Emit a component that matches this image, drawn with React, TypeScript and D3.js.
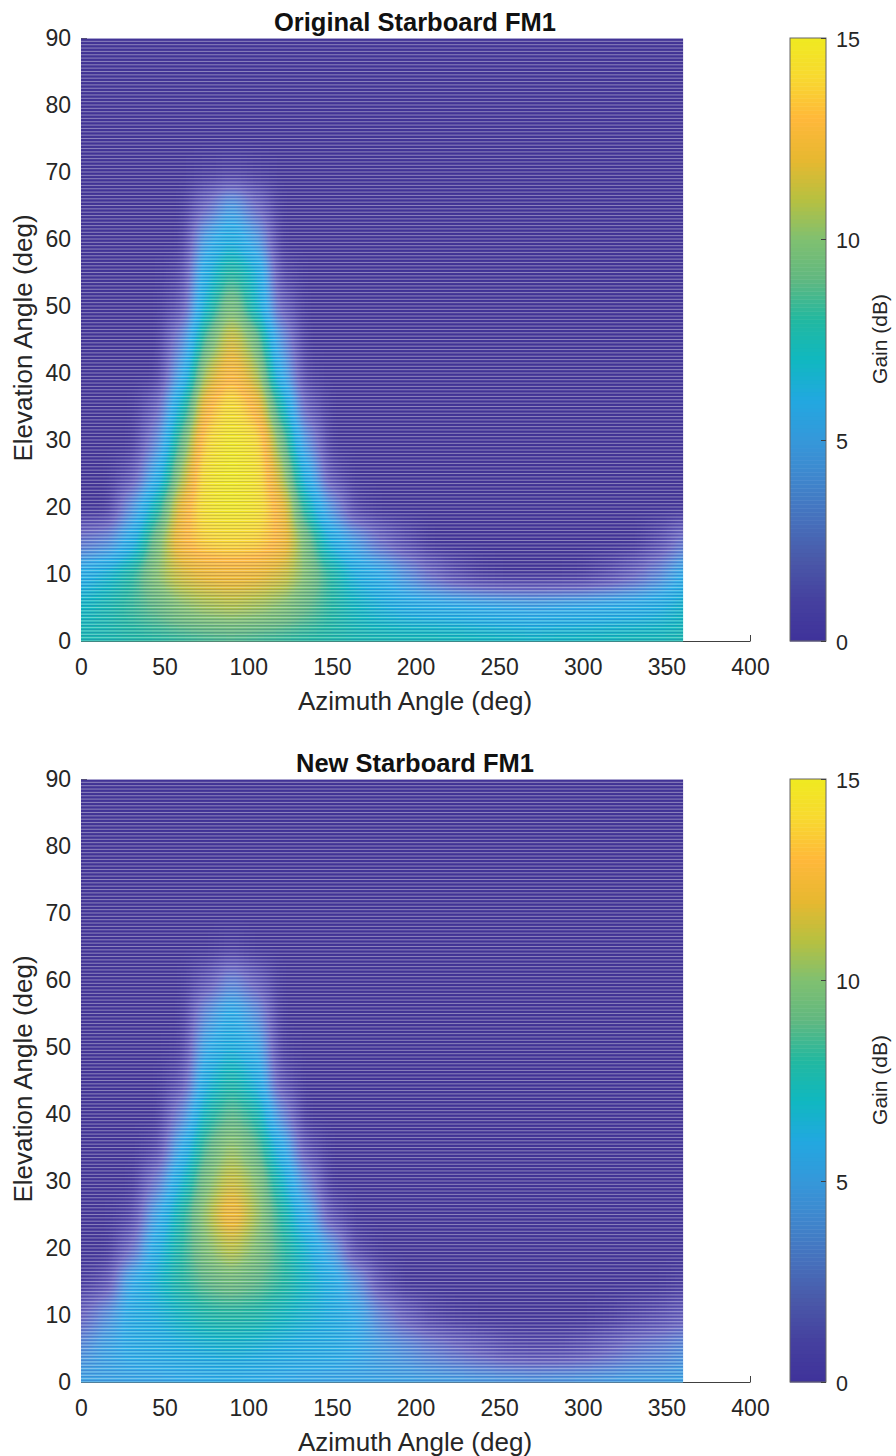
import React, { useEffect, useRef } from 'react';
import {
  select,
  scaleLinear,
  axisBottom,
  axisLeft,
  axisRight,
  range,
  rgb,
  interpolateRgb,
} from 'd3';

const azimuths = [0, 15, 30, 45, 60, 75, 90, 105, 120, 135, 150, 165, 180, 195, 210, 225, 240, 255, 270, 285, 300, 315, 330, 345, 360];
const elevations = [0, 5, 10, 15, 20, 25, 30, 35, 40, 45, 50, 55, 60, 65, 70];

// one row per elevation (bottom up), one value per azimuth, gain in dB
const gainOriginal = [
  [7.5, 7.6, 7.8, 8, 8.2, 8.4, 8.5, 8.4, 8.2, 8, 7.8, 7.6, 7.5, 7.4, 7.4, 7.3, 7.2, 7.1, 7, 7.1, 7.2, 7.3, 7.4, 7.4, 7.5],
  [7, 7.5, 8.3, 9, 10, 10.5, 10.8, 10.5, 10, 9, 8, 7, 6.3, 5.8, 5.6, 5.4, 5.2, 5, 4.8, 5, 5.2, 5.4, 5.6, 6, 6.8],
  [5.5, 6.5, 8, 10.2, 11.6, 12.2, 12.4, 12.2, 11.6, 10, 8, 6, 5.2, 3.5, 2, 0.8, 0.2, 0, 0, 0, 0.2, 0.8, 1.8, 3.2, 5.2],
  [2.5, 3.2, 5.5, 9.5, 12.8, 13.9, 14.1, 13.9, 12.8, 9.5, 6, 4, 2, 0.8, 0, 0, 0, 0, 0, 0, 0, 0, 0, 0.8, 2.5],
  [0, 0, 3.5, 7.5, 12.3, 14.7, 15, 14.7, 12.5, 7.5, 3.5, 0.4, 0, 0, 0, 0, 0, 0, 0, 0, 0, 0, 0, 0, 0],
  [0, 0, 1, 5, 10.5, 14.7, 15, 14.7, 11, 5.5, 0.8, 0, 0, 0, 0, 0, 0, 0, 0, 0, 0, 0, 0, 0, 0],
  [0, 0, 0, 3, 9, 14, 15, 14.4, 9.5, 3.5, 0, 0, 0, 0, 0, 0, 0, 0, 0, 0, 0, 0, 0, 0, 0],
  [0, 0, 0, 1.5, 7, 12.8, 14.5, 12.8, 7.5, 1.5, 0, 0, 0, 0, 0, 0, 0, 0, 0, 0, 0, 0, 0, 0, 0],
  [0, 0, 0, 0, 4.5, 11, 13, 11, 5, 0.3, 0, 0, 0, 0, 0, 0, 0, 0, 0, 0, 0, 0, 0, 0, 0],
  [0, 0, 0, 0, 3, 9, 11.8, 9.5, 3.5, 0, 0, 0, 0, 0, 0, 0, 0, 0, 0, 0, 0, 0, 0, 0, 0],
  [0, 0, 0, 0, 1, 7, 10, 7, 1.5, 0, 0, 0, 0, 0, 0, 0, 0, 0, 0, 0, 0, 0, 0, 0, 0],
  [0, 0, 0, 0, 0.5, 6, 8.3, 6.5, 0.5, 0, 0, 0, 0, 0, 0, 0, 0, 0, 0, 0, 0, 0, 0, 0, 0],
  [0, 0, 0, 0, 0, 4.5, 6.2, 4.2, 0, 0, 0, 0, 0, 0, 0, 0, 0, 0, 0, 0, 0, 0, 0, 0, 0],
  [0, 0, 0, 0, 0, 2, 4.3, 2, 0, 0, 0, 0, 0, 0, 0, 0, 0, 0, 0, 0, 0, 0, 0, 0, 0],
  [0, 0, 0, 0, 0, 0.2, 0.4, 0.2, 0, 0, 0, 0, 0, 0, 0, 0, 0, 0, 0, 0, 0, 0, 0, 0, 0],
];

const gainNew = [
  [4.5, 4.5, 4.6, 4.7, 4.8, 5, 5.2, 5, 4.8, 4.7, 4.6, 4.6, 4.6, 4.5, 4.4, 4.3, 4.2, 4.1, 4, 4.1, 4.2, 4.3, 4.4, 4.4, 4.5],
  [3.5, 4.6, 5.3, 5.6, 6, 6.3, 6.5, 6.3, 6, 5.7, 5.5, 5, 4.2, 3.5, 2.8, 2.2, 1.6, 1, 0.8, 0.8, 1.2, 1.8, 2.5, 3, 3.5],
  [1.8, 3.5, 5.6, 6.2, 7, 7.8, 8, 7.8, 7.2, 6.5, 6, 5, 3, 1.5, 0.5, 0.2, 0, 0, 0, 0, 0, 0.2, 0.6, 1, 1.6],
  [0.3, 1, 5, 6.5, 8, 9, 9.5, 9, 8.2, 6.8, 5.8, 3.5, 0.8, 0, 0, 0, 0, 0, 0, 0, 0, 0, 0, 0, 0.3],
  [0, 0, 2, 5.8, 8, 10, 11.2, 10, 8.3, 6.5, 4, 0.5, 0, 0, 0, 0, 0, 0, 0, 0, 0, 0, 0, 0, 0],
  [0, 0, 0.5, 4.5, 7.8, 10.6, 12.8, 10.6, 8, 5, 1, 0, 0, 0, 0, 0, 0, 0, 0, 0, 0, 0, 0, 0, 0],
  [0, 0, 0, 2.5, 6.5, 9.8, 11.5, 10.2, 7, 3, 0, 0, 0, 0, 0, 0, 0, 0, 0, 0, 0, 0, 0, 0, 0],
  [0, 0, 0, 0.5, 5, 8.8, 10.5, 9, 5.5, 1, 0, 0, 0, 0, 0, 0, 0, 0, 0, 0, 0, 0, 0, 0, 0],
  [0, 0, 0, 0, 3, 7.5, 9, 7.8, 3.2, 0, 0, 0, 0, 0, 0, 0, 0, 0, 0, 0, 0, 0, 0, 0, 0],
  [0, 0, 0, 0, 1, 6.2, 7.8, 6.2, 1, 0, 0, 0, 0, 0, 0, 0, 0, 0, 0, 0, 0, 0, 0, 0, 0],
  [0, 0, 0, 0, 0.2, 5, 6.3, 5, 0.2, 0, 0, 0, 0, 0, 0, 0, 0, 0, 0, 0, 0, 0, 0, 0, 0],
  [0, 0, 0, 0, 0, 3.5, 5.5, 3.5, 0, 0, 0, 0, 0, 0, 0, 0, 0, 0, 0, 0, 0, 0, 0, 0, 0],
  [0, 0, 0, 0, 0, 1.2, 3.2, 1.5, 0, 0, 0, 0, 0, 0, 0, 0, 0, 0, 0, 0, 0, 0, 0, 0, 0],
  [0, 0, 0, 0, 0, 0, 0.3, 0, 0, 0, 0, 0, 0, 0, 0, 0, 0, 0, 0, 0, 0, 0, 0, 0, 0],
  [0, 0, 0, 0, 0, 0, 0, 0, 0, 0, 0, 0, 0, 0, 0, 0, 0, 0, 0, 0, 0, 0, 0, 0, 0],
];

// colours, one per dB
const colorStops = ['#3f329a', '#45409f', '#4a58a8', '#4670bc', '#3f85cc', '#3598da', '#22a8e0', '#10b8c0', '#22b8a0', '#60b880', '#80c070', '#b8c040', '#e8b830', '#ffb83a', '#f8d830', '#f0ea20'];
// same, as the image shows them: the low end looks paler there than on the bar
const imageStops = ['#443696', '#5a50ae', '#6a68c0', '#5f82d2', '#4a9ce0', '#30aee8', '#1eb0e0', '#10b8c0', '#22b8a0', '#60b880', '#80c070', '#b8c040', '#e8b830', '#ffb83a', '#f8d830', '#f0ea20'];

const xTicks = [0, 50, 100, 150, 200, 250, 300, 350, 400];
const yTicks = [0, 10, 20, 30, 40, 50, 60, 70, 80, 90];
const gainTicks = [0, 5, 10, 15];

const panels = [
  { title: 'Original Starboard FM1', gain: gainOriginal, top: 0 },
  { title: 'New Starboard FM1', gain: gainNew, top: 741 },
];

const FONT = '"Liberation Sans", Arial, sans-serif';

function App() {
  const svgRef = useRef<SVGSVGElement>(null);

  useEffect(() => {
    const svg = select(svgRef.current);
    svg.selectAll('*').remove();

    const xScale = scaleLinear().domain([0, 400]).range([81, 750]);
    const yScale = scaleLinear().domain([0, 90]).range([641, 38]);
    const barScale = scaleLinear().domain([0, 15]).range([641, 38]);
    const color = scaleLinear<string>()
      .domain(colorStops.map((_, i) => i))
      .range(colorStops)
      .interpolate(interpolateRgb as any);
    // cells are drawn as grey levels, blurred, and only then coloured by the filter
    const grey = scaleLinear().domain([0, 15]).range([0, 255]);

    const defs = svg.append('defs');
    const soften = defs.append('filter')
      .attr('id', 'soften')
      .attr('filterUnits', 'userSpaceOnUse')
      .attr('x', -100).attr('y', -100).attr('width', 1100).attr('height', 900)
      .attr('color-interpolation-filters', 'sRGB');
    soften.append('feGaussianBlur').attr('stdDeviation', '9 11');
    const transfer = soften.append('feComponentTransfer');
    const channel = (tag: string, key: 'r' | 'g' | 'b') =>
      transfer.append(tag)
        .attr('type', 'table')
        .attr('tableValues', imageStops.map(c => (rgb(c)[key] / 255).toFixed(3)).join(' '));
    channel('feFuncR', 'r');
    channel('feFuncG', 'g');
    channel('feFuncB', 'b');

    defs.append('clipPath').attr('id', 'plotArea')
      .append('rect')
      .attr('x', xScale(0)).attr('y', yScale(90) + 0.5)
      .attr('width', xScale(360) - xScale(0)).attr('height', yScale(0) - yScale(90));

    panels.forEach(panel => {
      const g = svg.append('g').attr('transform', `translate(0,${panel.top})`);

      // axes first, the image covers them the way it does in the figure
      const xAxis = axisBottom(xScale).tickValues(xTicks).tickSizeInner(-6).tickSizeOuter(0).tickPadding(18);
      const yAxis = axisLeft(yScale).tickValues(yTicks).tickSizeInner(-6).tickSizeOuter(0).tickPadding(10);
      g.append('g').attr('transform', `translate(0,${yScale(0)})`).call(xAxis as any)
        .attr('font-size', 23).attr('font-family', FONT);
      g.append('g').attr('transform', `translate(${xScale(0)},0)`).call(yAxis as any)
        .attr('font-size', 23).attr('font-family', FONT);
      g.selectAll('.domain, .tick line').attr('stroke', '#404040');
      g.selectAll('.tick text').attr('fill', '#262626');

      const image = g.append('g').attr('clip-path', 'url(#plotArea)');
      const cells = image.append('g').attr('filter', 'url(#soften)');
      cells.append('rect')
        .attr('x', 0).attr('y', 0).attr('width', 896).attr('height', 700)
        .attr('fill', '#000000');
      panel.gain.forEach((row, r) => {
        const el = elevations[r];
        row.forEach((value, c) => {
          const az = azimuths[c];
          // edge cells run past the clip so the blur does not fade out at the border
          const x0 = c === 0 ? xScale(0) - 60 : xScale(az - 7.5);
          const x1 = c === row.length - 1 ? xScale(360) + 60 : xScale(az + 7.5);
          const y0 = yScale(el + 2.5);
          const y1 = r === 0 ? yScale(0) + 60 : yScale(el - 2.5);
          const level = Math.round(grey(value));
          cells.append('rect')
            .attr('x', x0).attr('y', y0)
            .attr('width', x1 - x0 + 0.5).attr('height', y1 - y0 + 0.5)
            .attr('fill', `rgb(${level},${level},${level})`);
        });
      });

      // gaps between the half degree rows show up as pale stripes, with a darker beat between them
      const rows = range(0, 90.25, 0.5);
      image.append('g')
        .attr('shape-rendering', 'crispEdges')
        .selectAll('line')
        .data(rows)
        .join('line')
        .attr('x1', xScale(0)).attr('x2', xScale(360))
        .attr('y1', d => yScale(d + 0.25)).attr('y2', d => yScale(d + 0.25))
        .attr('stroke', '#30289a')
        .attr('stroke-opacity', 0.16);
      image.append('g')
        .selectAll('line')
        .data(rows)
        .join('line')
        .attr('x1', xScale(0)).attr('x2', xScale(360))
        .attr('y1', d => yScale(d)).attr('y2', d => yScale(d))
        .attr('stroke', '#ffffff')
        .attr('stroke-opacity', 0.38)
        .attr('stroke-width', 1);

      // colour bar
      const bar = g.append('g');
      bar.selectAll('rect')
        .data(range(0, 15, 0.1))
        .join('rect')
        .attr('x', 790).attr('width', 36)
        .attr('y', d => barScale(d + 0.1))
        .attr('height', barScale(0) - barScale(0.1) + 0.5)
        .attr('fill', d => color(d + 0.05));
      bar.append('rect')
        .attr('x', 790).attr('y', barScale(15))
        .attr('width', 36).attr('height', barScale(0) - barScale(15))
        .attr('fill', 'none').attr('stroke', '#666666');
      const barAxis = axisRight(barScale).tickValues(gainTicks).tickSizeInner(-5).tickSizeOuter(0).tickPadding(10);
      const barG = g.append('g').attr('transform', 'translate(826,2)').call(barAxis as any)
        .attr('font-size', 21.5).attr('font-family', FONT);
      barG.select('.domain').remove();
      barG.selectAll('.tick line').attr('stroke', '#404040').attr('transform', 'translate(0,-2)');
      barG.selectAll('.tick text').attr('fill', '#262626');

      // labels
      g.append('text')
        .attr('x', 415).attr('y', 31)
        .attr('text-anchor', 'middle')
        .attr('font-family', FONT).attr('font-weight', 'bold').attr('font-size', 25.5)
        .attr('fill', '#111111')
        .text(panel.title);
      g.append('text')
        .attr('x', 415).attr('y', 710)
        .attr('text-anchor', 'middle')
        .attr('font-family', FONT).attr('font-size', 26)
        .attr('fill', '#262626')
        .text('Azimuth Angle (deg)');
      g.append('text')
        .attr('transform', 'translate(32,338) rotate(-90)')
        .attr('text-anchor', 'middle')
        .attr('font-family', FONT).attr('font-size', 26)
        .attr('fill', '#262626')
        .text('Elevation Angle (deg)');
      g.append('text')
        .attr('transform', 'translate(887,339) rotate(-90)')
        .attr('text-anchor', 'middle')
        .attr('font-family', FONT).attr('font-size', 21)
        .attr('fill', '#262626')
        .text('Gain (dB)');
    });
  }, []);

  return (
    <svg
      ref={svgRef}
      width={896}
      height={1456}
      style={{ position: 'absolute', left: 0, top: 0, background: '#ffffff' }}
    />
  );
}

export default App;
